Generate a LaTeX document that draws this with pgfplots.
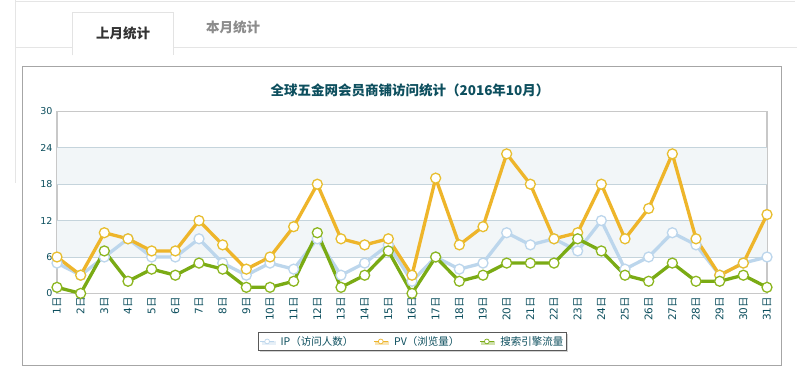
\documentclass[border=0pt]{standalone}
\usepackage{fontspec}
\setmainfont{DejaVu Sans}
\newfontfamily\cjk{Noto Sans CJK SC}
\usepackage{pgfplots}
\usepackage{pgfplotstable}
\pgfplotsset{compat=1.18}
\usetikzlibrary{shadows}
\definecolor{ipc}{HTML}{BCD6EC}
\definecolor{pvc}{HTML}{EEB52A}
\definecolor{pvm}{HTML}{E8BE30}
\definecolor{sec}{HTML}{7AAB14}
\definecolor{sem}{HTML}{8CB620}
\definecolor{tealtx}{HTML}{0D4F5E}
\definecolor{band}{HTML}{F2F6F8}
\definecolor{gridc}{HTML}{C5D4DC}
\definecolor{axc}{HTML}{C8C8C8}
\pgfplotstableread{
d ip pv se
1 5 6 1
2 3 3 0
3 6 10 7
4 9 9 2
5 6 7 4
6 6 7 3
7 9 12 5
8 5 8 4
9 3 4 1
10 5 6 1
11 4 11 2
12 9 18 10
13 3 9 1
14 5 8 3
15 8 9 7
16 2 3 0
17 6 19 6
18 4 8 2
19 5 11 3
20 10 23 5
21 8 18 5
22 9 9 5
23 7 10 9
24 12 18 7
25 4 9 3
26 6 14 2
27 10 23 5
28 8 9 2
29 3 3 2
30 5 5 3
31 6 13 1
}\data
\begin{document}
\begin{tikzpicture}[x=1pt,y=1pt]
\fill[white] (0,0) rectangle (800,383);
% page frame
\draw[gray!20, line width=0.8pt] (15,381.5) -- (795,381.5);
\draw[gray!20, line width=0.8pt] (15,383) -- (15,200);
\draw[gray!20, line width=0.8pt] (15,336) -- (797,336);
% tabs
\fill[white] (72,328) rectangle (173,371);
\draw[gray!22, line width=0.8pt] (72,328) -- (72,371) -- (173,371) -- (173,328);
\node[font=\cjk\bfseries\fontsize{13.5}{15}\selectfont, text=black!80] at (123,350) {上月统计};
\node[font=\cjk\bfseries\fontsize{13.5}{15}\selectfont, text=black!45] at (233,356) {本月统计};
% chart box
\draw[black!35, line width=0.8pt] (22,18) rectangle (781,317);
\node[font=\cjk\bfseries\fontsize{13.5}{15}\selectfont, text=tealtx] at (410,293) {全球五金网会员商铺访问统计（2016年10月）};
\begin{axis}[
  at={(57pt,90pt)}, anchor=south west,
  width=710pt, height=182pt, scale only axis,
  xmin=1, xmax=31, ymin=0, ymax=30,
  xtick={1,...,31}, ytick={0,6,...,30},
  major tick length=0pt,
  axis line style={draw=axc, line width=1.6pt},
  /pgf/number format/assume math mode=true,
  tick label style={font=\fontsize{9.5}{10}\selectfont, text=tealtx},
  yticklabel style={xshift=-1pt},
  xticklabel={\pgfmathtruncatemacro\dd{\tick}\dd{\cjk 日}},
  xticklabel style={rotate=90, anchor=east, font=\fontsize{10.5}{11}\selectfont},
  clip=false,
  legend columns=3,
  legend style={at={(0.5007,-0.264)}, anchor=center, draw=black!65, line width=0.7pt,
    font=\cjk\fontsize{10.5}{11}\selectfont, text=tealtx, inner sep=1.5pt,
    drop shadow={shadow xshift=1.5pt, shadow yshift=-1.5pt, opacity=0.35},
    /tikz/every odd column/.append style={column sep=4pt},
    /tikz/every even column/.append style={column sep=18pt}},
  legend cell align=left,
  legend image code/.code={\draw[#1, line width=0.9pt, mark size=2.4pt, mark options={line width=0.7pt, fill=white}, mark repeat=2, mark phase=2] plot coordinates {(0pt,0pt) (7pt,0pt) (14pt,0pt)};},
]
\fill[band] (axis cs:1,6) rectangle (axis cs:31,12);
\fill[band] (axis cs:1,18) rectangle (axis cs:31,24);
\foreach \g in {6,12,18,24} {\edef\tmp{\noexpand\draw[gridc, line width=0.8pt] (axis cs:1,\g) -- (axis cs:31,\g);}\tmp}
\addplot[ipc, line width=3.3pt, mark=*, mark size=5pt, mark options={fill=white, draw=ipc, line width=1.3pt}] table[x=d, y=ip] {\data};
\addlegendentry{IP（访问人数）}
\addplot[pvc, line width=3.3pt, mark=*, mark size=5pt, mark options={fill=white, draw=pvm, line width=1.3pt}] table[x=d, y=pv] {\data};
\addlegendentry{PV（浏览量）}
\addplot[sec, line width=3.3pt, mark=*, mark size=5pt, mark options={fill=white, draw=sem, line width=1.3pt}] table[x=d, y=se] {\data};
\addlegendentry{搜索引擎流量}
\end{axis}
\end{tikzpicture}
\end{document}
